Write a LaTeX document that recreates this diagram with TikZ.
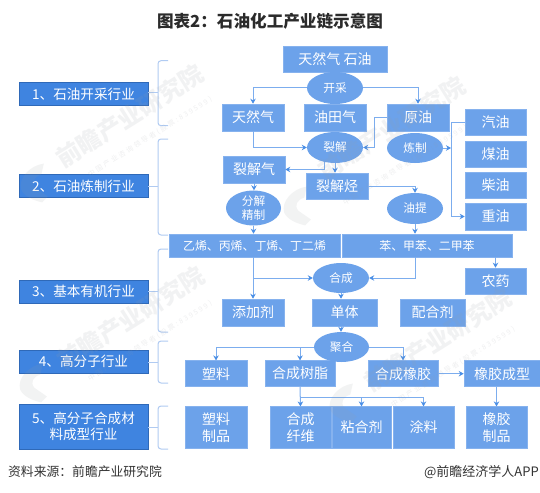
\documentclass[tikz,border=0pt]{standalone}
\usepackage{fontspec}
\setmainfont{Noto Sans CJK SC}
\usetikzlibrary{arrows.meta,shapes.geometric,calc}
\definecolor{boxc}{HTML}{6CA2EA}
\definecolor{edgec}{HTML}{86B2EE}
\definecolor{leftc}{HTML}{3F84E0}
\definecolor{leftd}{HTML}{2F69B8}
\definecolor{linec}{HTML}{7CADEE}
\definecolor{tipc}{HTML}{4A8FE6}
\definecolor{bracec}{HTML}{B0CBF2}
\definecolor{titlec}{HTML}{2B2B2B}
\definecolor{srcc}{HTML}{333333}
\definecolor{wmc}{HTML}{999DA3}
\tikzset{
  bluebox/.style={draw=edgec,line width=.6pt,fill=boxc,text=white,inner sep=0pt,align=center,font=\fontsize{14}{17.4}\selectfont},
  rowbox/.style={bluebox,font=\fontsize{11.9}{15}\selectfont},
  leftbox/.style={draw=leftd,line width=.7pt,fill=leftc,text=white,inner sep=0pt,align=center,font=\fontsize{13.6}{16.2}\selectfont},
  oval/.style={ellipse,draw=none,fill=boxc,text=white,inner sep=0pt,align=center,font=\fontsize{11.7}{14}\selectfont},
  conn/.style={draw=linec,line width=1pt,-{Stealth[length=5pt,width=5.5pt,color=tipc]}},
  plain/.style={draw=linec,line width=1pt},
  bracket/.style={draw=bracec,line width=1pt,rounded corners=3pt},
  wmark/.style={text=wmc,text opacity=.13,font=\bfseries\fontsize{24}{26}\selectfont,inner sep=0pt,rotate=32},
  wsmall/.style={text=wmc,text opacity=.16,font=\fontsize{7}{9}\selectfont\addfontfeature{LetterSpace=28},inner sep=0pt,rotate=32},
}
% name, x1, y1, x2, y2, style, text
\newcommand{\pbox}[7]{\node[#6,minimum width={(#4-#2)*1pt},minimum height={(#5-#3)*1pt}] (#1) at ({(#2+#4)/2},{(#3+#5)/2}) {#7};}
\newcommand{\pbrace}[3]{%
  \draw[bracket] (168,#1) -- (158,#1) -- (158,#3) -- (168,#3);
  \draw[bracket,rounded corners=0pt] (148,#2) -- (158,#2);}
% watermark logo centred at x, y
\newcommand{\wmlogo}[2]{\fill[wmc,opacity=.12,shift={(#1,#2)},rotate=32]
  (-15,-4) .. controls (-12,-15) and (5,-20) .. (18,-14) -- (10,-6)
  .. controls (3,-8) and (-3,-5) .. (-2,2) -- (4,16) -- (-4,18)
  .. controls (-10,12) and (-16,4) .. (-15,-4) -- cycle;}
\begin{document}
\begin{tikzpicture}[x=1pt,y=-1pt]
\useasboundingbox (0,0) rectangle (540,492);
\fill[white] (0,0) rectangle (540,492);
% title and source
\node[font=\bfseries\fontsize{16.6}{19}\selectfont,text=titlec,inner sep=0pt] (title) at (270,21) {图表2：石油化工产业链示意图};
\node[font=\fontsize{12.8}{15}\selectfont,text=srcc,anchor=west,inner sep=0pt] (src) at (8,472) {资料来源：前瞻产业研究院};
\node[font=\fontsize{13}{15}\selectfont,text=srcc,anchor=east,inner sep=0pt] (app) at (539,472) {@前瞻经济学人APP};
% left labels
\pbox{l1}{19}{82.7}{148}{105.7}{leftbox}{1、石油开采行业}
\pbox{l2}{19}{174.7}{148}{197.7}{leftbox}{2、石油炼制行业}
\pbox{l3}{19}{280}{148}{303.3}{leftbox}{3、基本有机行业}
\pbox{l4}{19}{350}{148}{373.3}{leftbox}{4、高分子行业}
\pbox{l5}{19}{404}{148}{449}{leftbox}{5、高分子合成材\\料成型行业}
\pbrace{60.7}{92.7}{125.7}
\pbrace{139}{186.7}{235}
\pbrace{249}{291}{332}
\pbrace{341}{362}{383}
\pbrace{406}{427.7}{449}
% boxes
\pbox{top}{283}{46}{387}{72}{bluebox}{天然气 石油}
\pbox{tr}{222}{104}{284}{131}{bluebox}{天然气}
\pbox{ytq}{304}{104}{366}{131}{bluebox}{油田气}
\pbox{yy}{387}{104}{449}{131}{bluebox}{原油}
\pbox{qy}{465}{109}{526}{135}{bluebox}{汽油}
\pbox{my}{465}{141}{526}{167}{bluebox}{煤油}
\pbox{cy}{465}{172}{526}{198}{bluebox}{柴油}
\pbox{zy}{465}{203}{526}{230}{bluebox}{重油}
\pbox{ljq}{223}{156}{285}{183}{bluebox}{裂解气}
\pbox{ljt}{306}{173}{368}{199}{bluebox}{裂解烃}
\pbox{yx}{169}{234}{340}{257}{rowbox}{乙烯、丙烯、丁烯、丁二烯}
\pbox{ben}{342}{234}{512}{257}{rowbox}{苯、甲苯、二甲苯}
\pbox{ny}{465}{268}{526}{294}{bluebox}{农药}
\pbox{tj}{222}{299}{284}{326}{bluebox}{添加剂}
\pbox{dt}{312}{299}{377}{326}{bluebox}{单体}
\pbox{ph}{400}{299}{465}{326}{bluebox}{配合剂}
\pbox{sl}{185}{360.7}{247}{386.7}{bluebox}{塑料}
\pbox{sz}{265}{360.7}{335}{386.7}{bluebox}{合成树脂}
\pbox{xj}{368}{360.7}{438}{386.7}{bluebox}{合成橡胶}
\pbox{cx}{464}{360.7}{540}{386.7}{bluebox}{橡胶成型}
\pbox{slp}{185}{406.7}{247}{448.3}{bluebox}{塑料\\制品}
\pbox{xw}{270}{406.7}{331}{448.3}{bluebox}{合成\\纤维}
\pbox{nh}{332}{406.7}{391}{448.3}{bluebox}{粘合剂}
\pbox{tl}{393}{406.7}{454}{448.3}{bluebox}{涂料}
\pbox{xjp}{466}{406.7}{527}{448.3}{bluebox}{橡胶\\制品}
% ovals
\pbox{kc}{307}{72}{363}{104}{oval}{开采}
\pbox{lj}{307}{132}{363}{163}{oval}{裂解}
\pbox{lz}{387}{133}{443}{163}{oval}{炼制}
\pbox{fj}{226}{192}{281}{224}{oval}{分解\\精制}
\pbox{yt}{387}{193}{443}{224}{oval}{油提}
\pbox{hc}{313}{263}{369}{293}{oval}{合成}
\pbox{jh}{314}{332}{369}{362}{oval}{聚合}
% connectors
\draw[conn] (kc.west) -| (tr.north);
\draw[conn] (kc.east) -| (yy.north);
\draw[conn] (tr.south) |- (lj.west);
\coordinate (yyb) at (374,117.5);
\draw[plain] (yy.west) -- (yyb);
\draw[conn] (yyb) |- (lj.east);
\draw[conn] (lj.-125) |- (ljq.east);
\draw[conn] (lj.south) -- (lj.south |- ljt.north);
\draw[conn] (ljq.south) -- (ljq.south |- fj.north);
\draw[conn] (ljt.east) -| (yt.north);
\draw[conn] (fj.south) -- (fj.south |- yx.north);
\draw[conn] (yt.south) -- (yt.south |- ben.north);
\coordinate (bus) at (451,148);
\draw[conn] (lz.east) -- (bus);
\draw[conn] (qy.west) -- (qy.west -| bus) |- (zy.west);
\draw[conn] (tr.south |- yx.south) -- (tj.north);
\coordinate (yxb) at (253,278);
\draw[conn] (yxb) -- (hc.west);
\draw[conn] (yt.south |- ben.south) |- (hc.east);
\draw[conn] (ny.north |- ben.south) -- (ny.north);
\draw[conn] (hc.south) -- (hc.south |- dt.north);
\draw[conn] (hc.south |- dt.south) -- (hc.south |- jh.north);
\draw[conn] (jh.west) -| (sl.north);
\coordinate (jhb) at (300,347);
\draw[conn] (jhb) -- (sz.north);
\draw[conn] (jh.east) -| (xj.north);
\draw[conn] (xj.east) -- (xj.east -| cx.west);
\draw[conn] (sz.south) -- (xw.north);
\coordinate (szb) at (300.5,397.5);
\draw[conn] (szb) -| (nh.north);
\draw[conn] (szb) -| (tl.north);
\draw[conn] (xjp.north |- cx.south) -- (xjp.north);
% watermarks lie over the drawing
\node[wmark] (w1) at (130,116) {前瞻产业研究院};
\node[wsmall] (s1) at (150,137) {中国产业咨询领导者(股票:839599)};
\wmlogo{36}{185}
\node[wmark] (w2) at (392,128) {前瞻产业研究院};
\node[wsmall] (s2) at (405,165) {中国产业咨询领导者(股票:839599)};
\wmlogo{299}{208}
\node[wmark] (w3) at (131,318) {前瞻产业研究院};
\node[wsmall] (s3) at (150,341) {中国产业咨询领导者(股票:839599)};
\wmlogo{35}{385}
\node[wmark] (w4) at (438,340) {前瞻产业研究院};
\node[wsmall] (s4) at (453,367) {中国产业咨询领导者(股票:839599)};
\wmlogo{345}{405}
\end{tikzpicture}
\end{document}
